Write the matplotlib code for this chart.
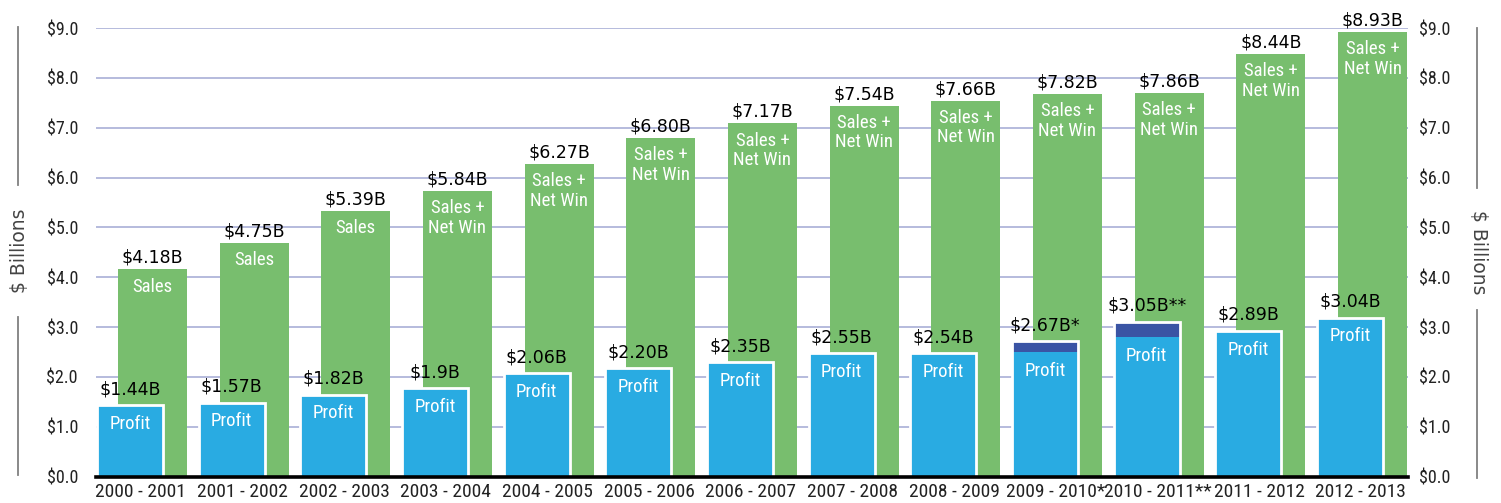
import matplotlib
matplotlib.use("Agg")
import matplotlib.pyplot as plt
from matplotlib import font_manager as fm
from matplotlib.lines import Line2D
from matplotlib.transforms import offset_copy
import numpy as np

categories = ["2000 - 2001", "2001 - 2002", "2002 - 2003", "2003 - 2004", "2004 - 2005",
              "2005 - 2006", "2006 - 2007", "2007 - 2008", "2008 - 2009", "2009 - 2010*",
              "2010 - 2011**", "2011 - 2012", "2012 - 2013"]
sales = [4.16, 4.69, 5.33, 5.73, 6.27, 6.79, 7.09, 7.44, 7.54, 7.68, 7.70, 8.48, 8.92]
sales_labels = ["$4.18B", "$4.75B", "$5.39B", "$5.84B", "$6.27B", "$6.80B", "$7.17B",
                "$7.54B", "$7.66B", "$7.82B", "$7.86B", "$8.44B", "$8.93B"]
sales_text = ["Sales"] * 3 + ["Sales +\nNet Win"] * 10
profit = [1.43, 1.48, 1.64, 1.77, 2.07, 2.17, 2.29, 2.47, 2.47, 2.50, 2.79, 2.92, 3.19]
profit_extra = [0, 0, 0, 0, 0, 0, 0, 0, 0, 0.21, 0.32, 0, 0]
profit_labels = ["$1.44B", "$1.57B", "$1.82B", "$1.9B", "$2.06B", "$2.20B", "$2.35B",
                 "$2.55B", "$2.54B", "$2.67B*", "$3.05B**", "$2.89B", "$3.04B"]
yticks = [0, 1, 2, 3, 4, 5, 6, 7, 8, 9]
ytick_labels = ["$%.1f" % v for v in yticks]


def find_narrow():
    names = {f.name for f in fm.fontManager.ttflist}
    for cand in ["Liberation Sans Narrow", "Roboto Condensed", "Open Sans Condensed",
                 "Arial Narrow", "Ubuntu Condensed", "Noto Sans Condensed",
                 "PT Sans Narrow", "Fira Sans Condensed"]:
        if cand in names:
            return dict(family=cand), True
    for f in fm.fontManager.ttflist:
        if f.stretch in ("condensed", "semi-condensed", "extra-condensed") or \
                (isinstance(f.stretch, int) and f.stretch < 500):
            if f.style == "normal" and f.weight in (400, "normal", "regular"):
                return dict(family=f.name, stretch=f.stretch), True
    return dict(family="Roboto"), False


NF, IS_NARROW = find_narrow()
print("narrow font:", NF, IS_NARROW)
REG = "DejaVu Sans"

if IS_NARROW:
    S_IN, S_XT, S_YT, LS = 13.5, 14, 13, 1.1
else:
    S_IN, S_XT, S_YT, LS = 11.5, 12, 12, 1.05

GREEN = "#78BE6E"
BLUE = "#29ABE2"
NAVY = "#3A54A4"
GRID = "#b0b5da"

fig = plt.figure(figsize=(15.01, 5.03), dpi=100)
W, H = 1501, 503
ax = fig.add_axes([96 / W, 26.5 / H, 1312 / W, 448.5 / H])

x = np.arange(len(categories))
blue_left = x - 0.43
blue_w = 0.648
green_left = x - 0.224
green_w = 0.678

ax.bar(green_left, sales, width=green_w, align="edge", color=GREEN, zorder=2)
total = [p + e for p, e in zip(profit, profit_extra)]
ax.bar(blue_left, total, width=blue_w, align="edge", color=BLUE, edgecolor="none", zorder=3)
ax.bar(blue_left, profit_extra, bottom=profit, width=blue_w, align="edge", color=NAVY,
       edgecolor="none", zorder=4)
ax.bar(blue_left, total, width=blue_w, align="edge", facecolor="none", edgecolor="white",
       linewidth=2.0, zorder=5)

for i in range(len(categories)):
    gc = green_left[i] + green_w / 2
    bc = blue_left[i] + blue_w / 2
    t_up_g = offset_copy(ax.transData, fig=fig, x=0, y=4.5, units="points")
    ax.text(gc, sales[i], sales_labels[i], ha="center", va="baseline", fontsize=12.5,
            family=REG, color="black", transform=t_up_g, zorder=6, clip_on=False)
    t_in_g = offset_copy(ax.transData, fig=fig, x=0, y=-6, units="points")
    ax.text(gc, sales[i], sales_text[i], ha="center", va="top", fontsize=S_IN,
            color="white", transform=t_in_g, zorder=6, linespacing=LS, **NF)
    t_up_b = offset_copy(ax.transData, fig=fig, x=0, y=8, units="points")
    ax.text(bc, total[i], profit_labels[i], ha="center", va="baseline", fontsize=12.5,
            family=REG, color="black", transform=t_up_b, zorder=6, clip_on=False)
    t_in_b = offset_copy(ax.transData, fig=fig, x=0, y=-7, units="points")
    ax.text(bc, profit[i], "Profit", ha="center", va="top", fontsize=S_IN,
            color="white", transform=t_in_b, zorder=6, **NF)

ax.set_xlim(-0.44, 12.464)
ax.set_ylim(0, 9)
ax.set_yticks(yticks)
ax.set_yticklabels(ytick_labels, fontsize=S_YT, color="#222222", **NF)
ax.set_xticks(x)
ax.set_xticklabels(categories, fontsize=S_XT, color="#222222", **NF)
ax.tick_params(axis="x", length=0, pad=5)
ax.tick_params(axis="y", length=0, pad=13)
ax.yaxis.grid(True, color=GRID, linewidth=1.3, zorder=0)
ax.set_axisbelow(True)
for s in ["top", "left", "right"]:
    ax.spines[s].set_visible(False)
ax.spines["bottom"].set_color("black")
ax.spines["bottom"].set_linewidth(2.6)
ax.spines["bottom"].set_zorder(7)

ax2 = ax.twinx()
ax2.set_ylim(0, 9)
ax2.set_yticks(yticks)
ax2.set_yticklabels(ytick_labels, fontsize=S_YT, color="#222222", **NF)
ax2.tick_params(axis="y", length=0, pad=8)
for s in ["top", "left", "right", "bottom"]:
    ax2.spines[s].set_visible(False)

LC = "#808080"
fig.text(19 / W, 1 - 251 / H, "$ Billions", rotation=90, ha="center", va="center",
         fontsize=13.5, family=REG, color="#444444")
fig.text(1478 / W, 1 - 252 / H, "$ Billions", rotation=-90, ha="center", va="center",
         fontsize=13.5, family=REG, color="#444444")
for (xx, y0, y1) in [(18, 27, 185), (18, 317, 475), (1477, 28, 188), (1477, 310, 478)]:
    fig.add_artist(Line2D([xx / W, xx / W], [1 - y0 / H, 1 - y1 / H], color=LC,
                          linewidth=1.3, transform=fig.transFigure))

fig.savefig("out.png", dpi=100)
